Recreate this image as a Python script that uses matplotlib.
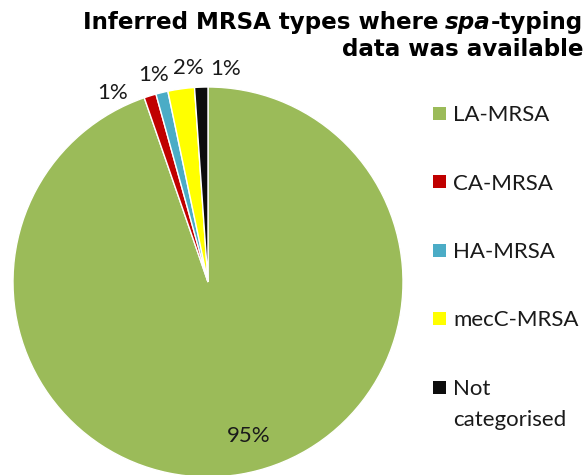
import matplotlib.pyplot as plt
from matplotlib.patches import Rectangle

# dati
categories = ["LA-MRSA", "CA-MRSA", "HA-MRSA", "mecC-MRSA", "Not\ncategorised"]
shares = [94.7, 1.0, 1.0, 2.2, 1.1]
colors = ["#9BBB59", "#C00000", "#4BACC6", "#FFFF00", "#0D0D0D"]

# posizioni delle etichette (coordinate della torta, raggio 1)
label_pos = [(0.21, -0.79), (-0.49, 0.97), (-0.28, 1.06), (-0.10, 1.10), (0.09, 1.09)]

W, H = 587, 475
fig = plt.figure(figsize=(W / 100, H / 100), dpi=100)

# torta: centro ~ (208, 282) px, raggio ~195 px
cx, cy, r = 208, 282, 195
ax = fig.add_axes([(cx - r) / W, (H - cy - r) / H, 2 * r / W, 2 * r / H])
ax.pie(shares, colors=colors, startangle=90, counterclock=False,
       wedgeprops=dict(edgecolor="white", linewidth=1.0))
ax.set_xlim(-1, 1)
ax.set_ylim(-1, 1)
ax.set_aspect("equal")
ax.axis("off")

for (x, y), v in zip(label_pos, shares):
    ax.text(x, y, f"{v:.0f}%", ha="center", va="center",
            fontsize=16, family="Lato", color="#1a1a1a")

# legenda disegnata a mano (marker allineato alla prima riga)
y0, step, line_h = 113, 68.5, 31
for i, (c, lab) in enumerate(zip(colors, categories)):
    yc = y0 + i * step
    fig.patches.append(Rectangle((433 / W, 1 - (yc + 6.5) / H), 13 / W, 13 / H,
                                 facecolor=c, transform=fig.transFigure))
    for j, line in enumerate(lab.split("\n")):
        fig.text(453 / W, 1 - (yc + 8 + j * line_h) / H, line, ha="left",
                 va="baseline", fontsize=16, family="Lato", color="#1a1a1a")

# titolo con "spa" in corsivo
renderer = fig.canvas.get_renderer()
tsize = 16.6
xr = 583 / W
for y, parts in [(1 - 22 / H, ["-typing", "spa", " ", "Inferred MRSA types where"]),
                 (1 - 50 / H, ["data was available"])]:
    x = xr
    for txt in parts:
        if txt == " ":
            x -= 0.3 * tsize * 100 / 72 / W
            continue
        t = fig.text(x, y, txt, ha="right", va="center", fontsize=tsize,
                     fontweight="bold", style="italic" if txt == "spa" else "normal",
                     family="DejaVu Sans")
        x -= t.get_window_extent(renderer).width / W

fig.savefig("out.png", dpi=100)
